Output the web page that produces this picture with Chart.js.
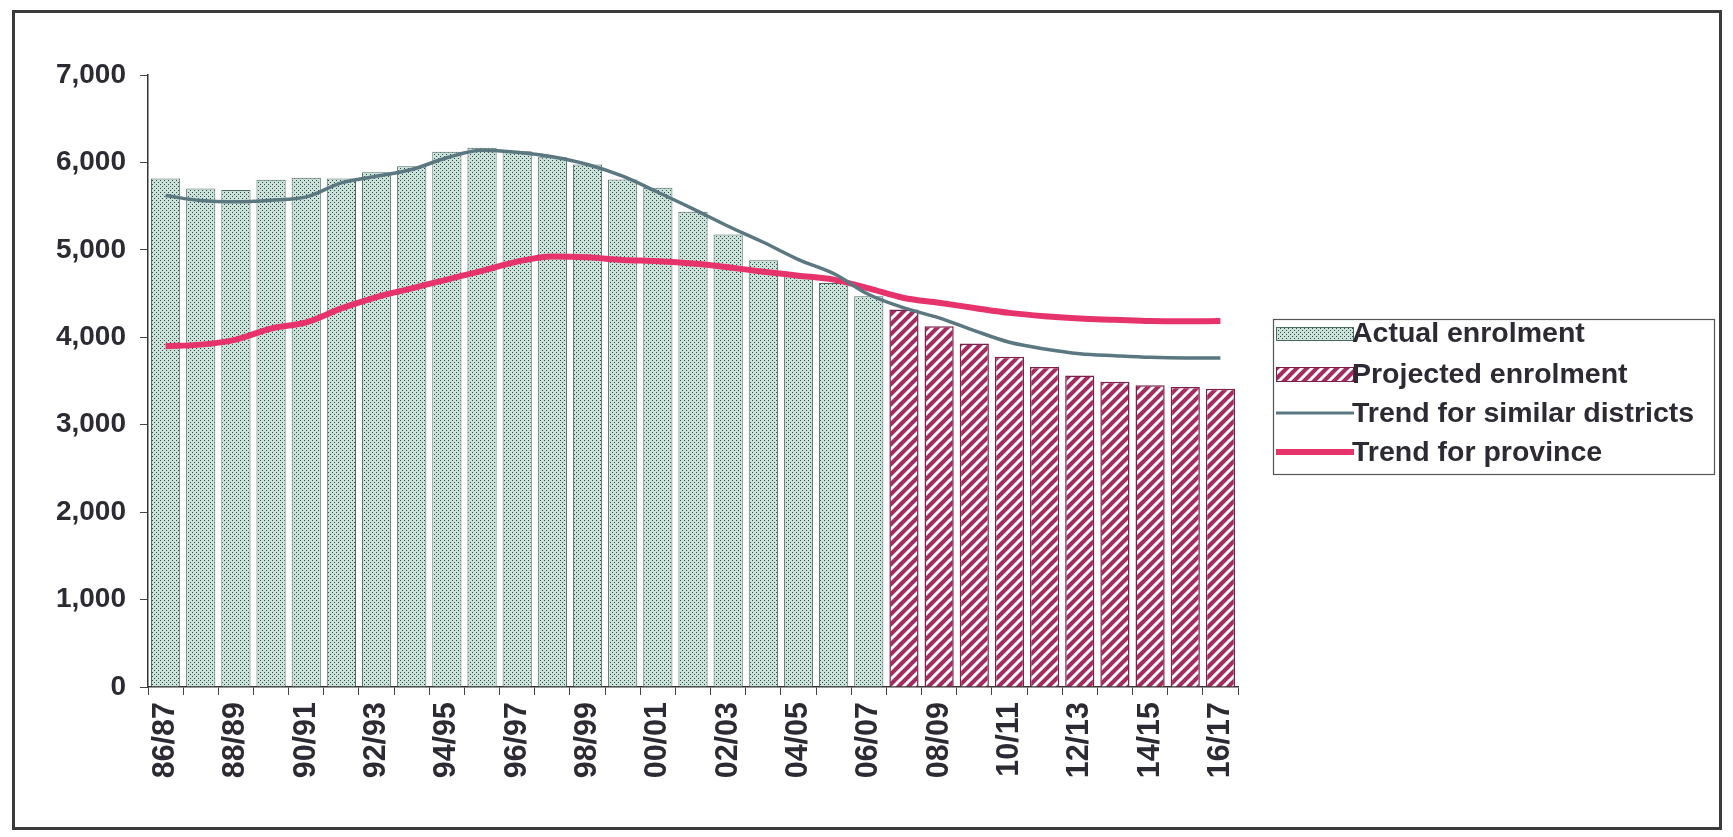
<!DOCTYPE html>
<html lang="en">
<head>
    <meta charset="UTF-8">
    <title>Enrolment Trend</title>
    <script src="https://cdn.jsdelivr.net/npm/chart.js"></script>
    <style>
        html, body { margin: 0; padding: 0; background: #fff; }
        .frame {
            position: absolute; left: 12px; top: 10px;
            width: 1704px; height: 814px;
            border: 3px solid #3b3b3b;
        }
        #enrolmentChart { position: absolute; left: 0; top: 0; }
    </style>
</head>
<body>
    <div class="frame"></div>
    <canvas id="enrolmentChart" width="1733" height="837"></canvas>

    <script>
        const years = ['86/87', '87/88', '88/89', '89/90', '90/91', '91/92', '92/93', '93/94', '94/95', '95/96',
            '96/97', '97/98', '98/99', '99/00', '00/01', '01/02', '02/03', '03/04', '04/05', '05/06',
            '06/07', '07/08', '08/09', '09/10', '10/11', '11/12', '12/13', '13/14', '14/15', '15/16', '16/17'];

        const actualEnrolment = [5816, 5701, 5686, 5801, 5824, 5815, 5888, 5957, 6121, 6167,
            6128, 6060, 5976, 5804, 5709, 5435, 5175, 4881, 4700, 4620,
            4470, null, null, null, null, null, null, null, null, null, null];

        const projectedEnrolment = [null, null, null, null, null, null, null, null, null, null,
            null, null, null, null, null, null, null, null, null, null,
            null, 4317, 4126, 3928, 3776, 3661, 3562, 3490, 3451, 3432, 3410];

        const similarDistricts = [5621, 5564, 5549, 5568, 5606, 5766, 5842, 5919, 6053, 6140,
            6117, 6064, 5976, 5842, 5659, 5469, 5270, 5087, 4889, 4729,
            4489, 4336, 4222, 4077, 3943, 3867, 3813, 3790, 3771, 3764, 3764];

        const provinceTrend = [3897, 3916, 3974, 4100, 4170, 4330, 4460, 4560, 4660, 4760,
            4865, 4925, 4915, 4885, 4870, 4843, 4800, 4750, 4705, 4660,
            4560, 4450, 4395, 4336, 4279, 4241, 4214, 4200, 4185, 4183, 4185];

        const yTicks = [0, 1000, 2000, 3000, 4000, 5000, 6000, 7000];

        const legendLabels = ['Actual enrolment', 'Projected enrolment', 'Trend for similar districts', 'Trend for province'];

        const GREY_LINE = '#5b7880';
        const PINK_LINE = '#e6336c';
        const MAROON = '#a32c61';

        // fill patterns for the bars
        function dotPattern() {
            const c = document.createElement('canvas');
            c.width = 4; c.height = 4;
            const g = c.getContext('2d');
            g.fillStyle = '#cbe2da';
            g.fillRect(0, 0, 4, 4);
            g.fillStyle = '#2f4a45';
            g.fillRect(0, 0, 1, 1);
            g.fillRect(2, 2, 1, 1);
            return g.createPattern(c, 'repeat');
        }

        function hatchPattern() {
            const c = document.createElement('canvas');
            c.width = 10; c.height = 10;
            const g = c.getContext('2d');
            g.fillStyle = MAROON;
            g.fillRect(0, 0, 10, 10);
            g.strokeStyle = '#ffffff';
            g.lineWidth = 3;
            g.beginPath();
            g.moveTo(0, 10); g.lineTo(10, 0);
            g.moveTo(-5, 5); g.lineTo(5, -5);
            g.moveTo(5, 15); g.lineTo(15, 5);
            g.stroke();
            return g.createPattern(c, 'repeat');
        }

        const dots = dotPattern();
        const hatch = hatchPattern();

        // legend box on the right, drawn on the chart canvas
        const boxLegend = {
            id: 'boxLegend',
            afterDraw(chart) {
                const ctx = chart.ctx;
                const left = 1273, top = 319, w = 441, h = 155;
                const rows = [333, 374, 413, 452];
                ctx.save();
                ctx.strokeStyle = '#555';
                ctx.lineWidth = 1.2;
                ctx.strokeRect(left + 0.5, top + 0.5, w, h);

                ctx.fillStyle = dots;
                ctx.fillRect(1276, rows[0] - 6, 77, 13);
                ctx.strokeStyle = '#4d6a65';
                ctx.lineWidth = 1;
                ctx.strokeRect(1276.5, rows[0] - 5.5, 77, 13);

                ctx.fillStyle = hatch;
                ctx.fillRect(1276, rows[1] - 7, 77, 14);
                ctx.strokeStyle = '#7e1f4c';
                ctx.strokeRect(1276.5, rows[1] - 6.5, 77, 14);

                ctx.strokeStyle = GREY_LINE;
                ctx.lineWidth = 3;
                ctx.beginPath();
                ctx.moveTo(1276, rows[2]); ctx.lineTo(1354, rows[2]);
                ctx.stroke();

                ctx.strokeStyle = PINK_LINE;
                ctx.lineWidth = 6;
                ctx.beginPath();
                ctx.moveTo(1276, rows[3]); ctx.lineTo(1354, rows[3]);
                ctx.stroke();

                ctx.fillStyle = '#2d2a33';
                ctx.font = 'bold 28.5px "Liberation Sans", Arial, sans-serif';
                ctx.textBaseline = 'middle';
                ctx.textAlign = 'left';
                legendLabels.forEach((t, i) => ctx.fillText(t, 1352, rows[i] + 1));
                ctx.restore();
            }
        };

        const yFont = { family: '"Liberation Sans", Arial, sans-serif', size: 28, weight: 'bold' };
        const xFont = { family: '"Liberation Sans", Arial, sans-serif', size: 30.5, weight: 'bold' };

        new Chart(document.getElementById('enrolmentChart'), {
            data: {
                labels: years,
                datasets: [
                    {
                        type: 'line',
                        label: legendLabels[2],
                        data: similarDistricts,
                        borderColor: GREY_LINE,
                        borderWidth: 3.5,
                        pointRadius: 0,
                        cubicInterpolationMode: 'monotone',
                        order: 0
                    },
                    {
                        type: 'line',
                        label: legendLabels[3],
                        data: provinceTrend,
                        borderColor: PINK_LINE,
                        borderWidth: 6,
                        pointRadius: 0,
                        cubicInterpolationMode: 'monotone',
                        order: 1
                    },
                    {
                        type: 'bar',
                        label: legendLabels[0],
                        data: actualEnrolment,
                        backgroundColor: dots,
                        borderColor: '#4d6a65',
                        borderWidth: 1,
                        grouped: false,
                        barPercentage: 0.83,
                        categoryPercentage: 1,
                        order: 2
                    },
                    {
                        type: 'bar',
                        label: legendLabels[1],
                        data: projectedEnrolment,
                        backgroundColor: hatch,
                        borderColor: '#7e1f4c',
                        borderWidth: 1.5,
                        grouped: false,
                        barPercentage: 0.83,
                        categoryPercentage: 1,
                        order: 3
                    }
                ]
            },
            options: {
                responsive: false,
                animation: false,
                layout: { padding: { left: 0, right: 495, top: 75, bottom: 0 } },
                plugins: {
                    legend: { display: false },
                    tooltip: { enabled: false }
                },
                scales: {
                    x: {
                        afterFit: scale => { scale.height = 150; },
                        grid: { drawOnChartArea: false, tickLength: 8, color: '#444' },
                        border: { color: '#333', width: 1.5 },
                        ticks: {
                            autoSkip: false,
                            minRotation: 90,
                            maxRotation: 90,
                            padding: 7,
                            color: '#2d2a33',
                            font: xFont,
                            callback: (v, i) => (i % 2 === 0 ? years[i] : '')
                        }
                    },
                    y: {
                        min: 0,
                        max: 7000,
                        afterFit: scale => { scale.width = 148; },
                        afterBuildTicks: scale => { scale.ticks = yTicks.map(v => ({ value: v })); },
                        grid: { drawOnChartArea: false, tickLength: 8, color: '#444' },
                        border: { color: '#333', width: 1.5 },
                        ticks: {
                            padding: 14,
                            color: '#2d2a33',
                            font: yFont,
                            callback: v => v.toLocaleString('en-US')
                        }
                    }
                }
            },
            plugins: [boxLegend]
        });
    </script>
</body>
</html>
